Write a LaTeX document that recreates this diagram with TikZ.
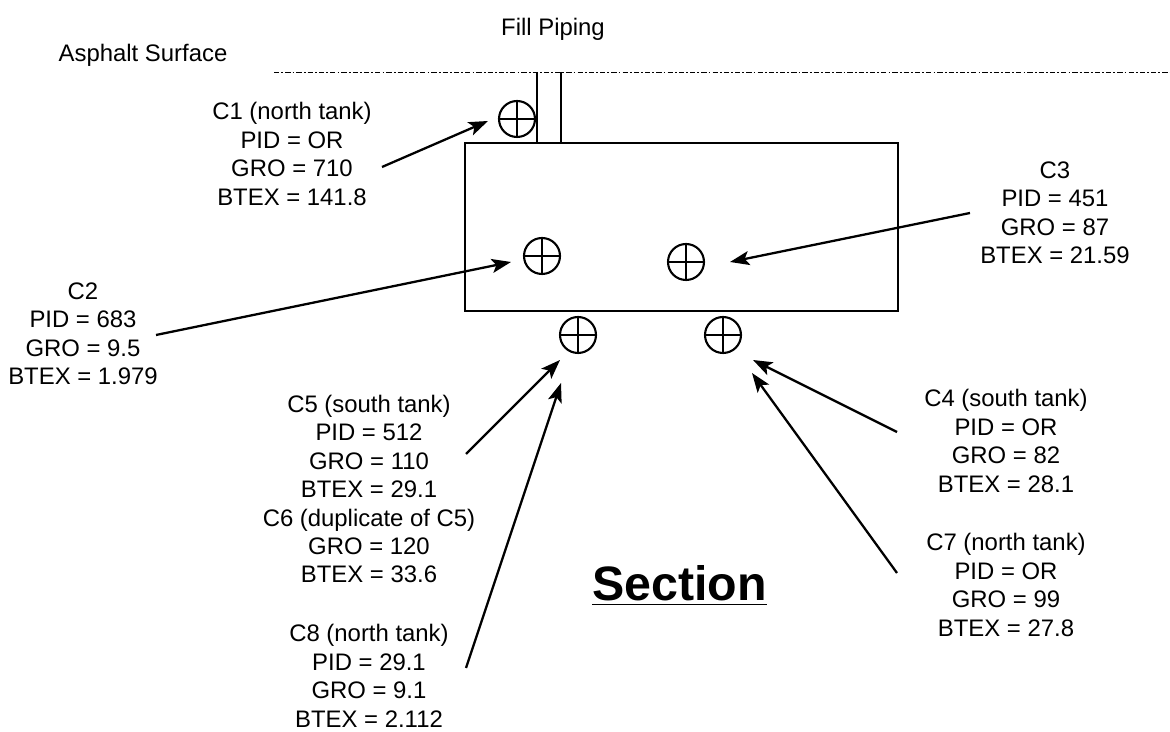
\documentclass[tikz,border=0pt]{standalone}
\usepackage{fontspec}
\setmainfont{Liberation Sans}
\usetikzlibrary{arrows.meta}

\begin{document}
\begin{tikzpicture}[
        x=0.02cm, y=-0.02cm,
        label/.style={align=center, font=\fontsize{13.6}{16.2}\selectfont, inner sep=0pt},
        sample/.style={draw, circle, minimum size=0.72cm, inner sep=0pt, line width=1.2pt},
        tank/.style={draw, line width=1.3pt, minimum width=8.66cm, minimum height=3.36cm, inner sep=0pt},
        arrow/.style={-{Stealth[length=11pt, width=8pt, inset=2.5pt]}, line width=1.3pt}
    ]
        \useasboundingbox (0, 0) rectangle (1170, 732);

        \node[label] (title_fill) at (553, 29) {Fill Piping};
        \node[label] (title_asphalt) at (143, 55) {Asphalt Surface};

        \coordinate (surf_l) at (274, 72);
        \coordinate (surf_r) at (1170, 72);
        \draw[dash pattern=on 3pt off 1.2pt on 1pt off 1.2pt, line width=0.5pt] (surf_l) -- (surf_r);

        % tank and pipe
        \node[tank] (tank) at (681.5, 227) {};
        \coordinate (pipe_l) at (537, 72);
        \coordinate (pipe_r) at (561, 72);
        \draw[line width=1.3pt] (pipe_l) -- (pipe_l |- tank.north);
        \draw[line width=1.3pt] (pipe_r) -- (pipe_r |- tank.north);

        \foreach \name/\px/\py in {c1/517/119, c2/542/256, c3/686/262, c5/578/335, c4/723/335} {
            \node[sample] (\name) at (\px, \py) {};
            \draw[line width=1pt] (\name.west) -- (\name.east) (\name.north) -- (\name.south);
        }

        \node[label] (lab_c1) at (292, 154) {C1 (north tank)\\PID = OR\\GRO = 710\\BTEX = 141.8};
        \node[label] (lab_c2) at (83, 334) {C2\\PID = 683\\GRO = 9.5\\BTEX = 1.979};
        \node[label] (lab_c3) at (1055, 213) {C3\\PID = 451\\GRO = 87\\BTEX = 21.59};
        \node[label] (lab_c4) at (1006, 441) {C4 (south tank)\\PID = OR\\GRO = 82\\BTEX = 28.1};
        \node[label] (lab_c5) at (369, 489) {C5 (south tank)\\PID = 512\\GRO = 110\\BTEX = 29.1\\C6 (duplicate of C5)\\GRO = 120\\BTEX = 33.6};
        \node[label] (lab_c7) at (1006, 585) {C7 (north tank)\\PID = OR\\GRO = 99\\BTEX = 27.8};
        \node[label] (lab_c8) at (369, 676) {C8 (north tank)\\PID = 29.1\\GRO = 9.1\\BTEX = 2.112};

        \node[font=\fontsize{27.5}{32}\selectfont\bfseries, inner sep=0pt, anchor=base] (section) at (679.5, 601) {\underline{Section}};

        \coordinate (from_c1) at (382, 167);
        \coordinate (from_c2) at (156, 335);
        \coordinate (from_c3) at (970, 213);
        \coordinate (from_c4) at (897, 432);
        \coordinate (from_c5) at (466, 454);
        \coordinate (from_c7) at (897, 573);
        \coordinate (from_c8) at (466, 668);

        \draw[arrow] (from_c1) -- ([shift={(-29, 2)}]c1.center);
        \draw[arrow] (from_c2) -- ([shift={(-31, 6)}]c2.center);
        \draw[arrow] (from_c3) -- ([shift={(44, 0)}]c3.center);
        \draw[arrow] (from_c4) -- ([shift={(30, 25)}]c4.center);
        \draw[arrow] (from_c5) -- ([shift={(-18, 25)}]c5.center);
        \draw[arrow] (from_c7) -- ([shift={(29, 38)}]c4.center);
        \draw[arrow] (from_c8) -- ([shift={(-17, 48)}]c5.center);
    \end{tikzpicture}
\end{document}
